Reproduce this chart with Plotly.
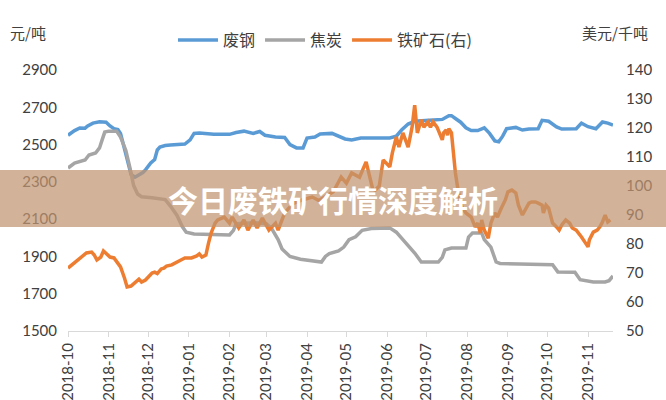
import plotly.graph_objects as go

# ---------------- data ----------------
scrap_dates = ["2018-10-01","2018-10-06","2018-10-10","2018-10-14","2018-10-16","2018-10-20","2018-10-25","2018-10-30",
               "2018-11-02","2018-11-05","2018-11-08","2018-11-10","2018-11-14","2018-11-18","2018-11-21","2018-11-24",
               "2018-11-27","2018-11-29","2018-12-03","2018-12-06","2018-12-08","2018-12-10","2018-12-14","2018-12-18",
               "2018-12-22","2018-12-29","2019-01-02","2019-01-05","2019-01-09","2019-01-20","2019-02-01","2019-02-06",
               "2019-02-12","2019-02-19","2019-02-24","2019-02-28","2019-03-08","2019-03-15","2019-03-19","2019-03-24",
               "2019-03-29","2019-04-01","2019-04-07","2019-04-11","2019-04-20","2019-04-30","2019-05-05","2019-05-12",
               "2019-05-25","2019-06-03","2019-06-08","2019-06-12","2019-06-17","2019-06-22","2019-07-03","2019-07-13",
               "2019-07-18","2019-07-20","2019-07-23","2019-07-27","2019-07-31","2019-08-04","2019-08-09","2019-08-14",
               "2019-08-18","2019-08-22","2019-08-25","2019-08-28","2019-08-31","2019-09-07","2019-09-12","2019-09-17",
               "2019-09-24","2019-09-27","2019-10-02","2019-10-08","2019-10-12","2019-10-17","2019-10-23","2019-10-27",
               "2019-11-01","2019-11-07","2019-11-12","2019-11-16","2019-11-20"]
scrap_vals = [2550,2575,2589,2588,2600,2615,2622,2620,
              2600,2585,2580,2560,2450,2340,2325,2337,
              2350,2364,2401,2420,2471,2487,2495,2498,
              2500,2503,2525,2560,2562,2555,2555,2565,
              2572,2560,2570,2550,2541,2538,2500,2482,
              2482,2535,2540,2557,2560,2530,2525,2535,
              2535,2535,2545,2578,2610,2625,2630,2635,
              2655,2655,2640,2620,2590,2575,2575,2590,
              2560,2520,2515,2545,2585,2592,2578,2583,
              2585,2630,2625,2595,2583,2585,2585,2615,
              2596,2585,2621,2615,2605]

coke_dates = ["2018-10-01","2018-10-04","2018-10-06","2018-10-14","2018-10-17","2018-10-22","2018-10-25","2018-10-27",
              "2018-10-29","2018-11-01","2018-11-07","2018-11-10","2018-11-14","2018-11-17","2018-11-20","2018-11-23",
              "2018-11-26","2018-12-04","2018-12-14","2018-12-18","2018-12-23","2018-12-27","2018-12-30","2019-01-05",
              "2019-01-20","2019-02-01","2019-02-04","2019-02-06","2019-02-20","2019-03-01","2019-03-05","2019-03-10",
              "2019-03-13","2019-03-19","2019-03-27","2019-04-06","2019-04-12","2019-04-15","2019-04-18","2019-04-25",
              "2019-04-29","2019-05-03","2019-05-08","2019-05-13","2019-05-20","2019-06-03","2019-06-08","2019-06-13",
              "2019-06-18","2019-06-22","2019-06-27","2019-07-10","2019-07-13","2019-07-15","2019-07-20","2019-07-31",
              "2019-08-02","2019-08-05","2019-08-12","2019-08-14","2019-08-19","2019-08-23","2019-08-26","2019-09-15",
              "2019-10-05","2019-10-09","2019-10-22","2019-10-26","2019-11-05","2019-11-14","2019-11-17","2019-11-20"]
coke_vals = [2374,2390,2401,2417,2444,2455,2482,2525,
             2567,2572,2572,2540,2470,2380,2280,2235,
             2220,2215,2205,2170,2120,2060,2030,2020,
             2015,2015,2040,2075,2080,2075,2050,1990,
             1940,1900,1885,1875,1870,1900,1915,1930,
             1950,1990,2005,2040,2050,2053,2030,1990,
             1950,1918,1870,1870,1895,1935,1945,1945,
             2004,2026,2026,1990,1950,1870,1862,1860,
             1855,1817,1815,1775,1763,1763,1770,1795]

ore_dates = ["2018-10-01","2018-10-04","2018-10-06","2018-10-08","2018-10-12","2018-10-15","2018-10-19","2018-10-21",
             "2018-10-23","2018-10-26","2018-10-28","2018-10-31","2018-11-02","2018-11-05","2018-11-07","2018-11-10",
             "2018-11-13","2018-11-15","2018-11-18","2018-11-22","2018-11-24","2018-11-26","2018-11-29","2018-12-04",
             "2018-12-06","2018-12-08","2018-12-11","2018-12-13","2018-12-15","2018-12-19","2018-12-22","2018-12-26",
             "2018-12-29","2019-01-03","2019-01-07","2019-01-09","2019-01-11","2019-01-14","2019-01-16","2019-01-18",
             "2019-01-21","2019-01-23","2019-01-28","2019-02-01","2019-02-03","2019-02-08","2019-02-12","2019-02-15",
             "2019-02-19","2019-02-22","2019-02-26","2019-03-03","2019-03-08","2019-03-10","2019-03-12","2019-03-15",
             "2019-03-19","2019-03-22","2019-03-27","2019-04-05","2019-04-10","2019-04-15","2019-04-21","2019-04-27",
             "2019-05-01","2019-05-05","2019-05-11","2019-05-16","2019-05-18","2019-05-21","2019-05-23","2019-05-26",
             "2019-05-29","2019-06-03","2019-06-05","2019-06-08","2019-06-10","2019-06-13","2019-06-17","2019-06-20",
             "2019-06-22","2019-06-24","2019-06-27","2019-06-29","2019-07-02","2019-07-04","2019-07-06","2019-07-09",
             "2019-07-13","2019-07-14","2019-07-16","2019-07-17","2019-07-18","2019-07-20","2019-07-23","2019-07-25",
             "2019-07-28","2019-07-31","2019-08-04","2019-08-07","2019-08-09","2019-08-11","2019-08-12","2019-08-14",
             "2019-08-17","2019-08-19","2019-08-22","2019-08-24","2019-08-27","2019-08-30","2019-09-01","2019-09-04",
             "2019-09-07","2019-09-09","2019-09-12","2019-09-15","2019-09-17","2019-09-19","2019-09-22","2019-09-24",
             "2019-09-27","2019-09-28","2019-09-30","2019-10-02","2019-10-05","2019-10-08","2019-10-10","2019-10-12",
             "2019-10-15","2019-10-18","2019-10-20","2019-10-23","2019-10-25","2019-10-27","2019-10-31","2019-11-01",
             "2019-11-02","2019-11-05","2019-11-08","2019-11-10","2019-11-12","2019-11-14","2019-11-16","2019-11-18"]
ore_vals = [71.7,72.8,73.8,74.5,75.9,76.9,77.2,76.2,
            74.5,75.5,77.6,76.2,75.5,75.2,74.1,72.1,
            68.3,65.2,65.5,66.9,67.9,66.9,67.6,70.0,
            70.3,69.8,71.4,71.7,72.4,72.8,73.4,74.5,
            75.2,75.2,75.9,76.6,75.5,76.2,80.3,83.8,
            87.2,88.3,89.3,87.2,89.3,85.5,88.3,84.8,
            88.3,85.5,88.9,84.8,87.2,84.8,87.2,90.7,
            92.8,94.1,95.0,96.2,95.0,96.5,98.0,103.1,
            101.0,104.5,103.0,108.3,104.5,99.0,98.6,100.0,
            109.0,106.6,111.4,116.9,113.4,118.3,113.4,120.3,
            127.9,118.3,122.8,120.3,122.1,120.3,122.1,120.3,
            115.9,118.3,119.3,117.5,119.8,118.3,104.5,98.6,
            92.8,90.7,89.3,85.9,87.2,83.8,88.3,84.8,
            82.0,87.2,90.7,89.3,92.4,95.2,98.0,98.6,
            97.6,93.4,90.0,92.4,94.1,94.5,94.5,94.1,
            93.4,90.7,93.4,92.4,87.2,85.9,84.8,86.6,
            88.3,87.2,85.5,84.8,83.8,82.4,79.7,79.0,
            81.4,84.1,84.8,85.9,87.6,90.0,87.6,88.3]

names = ["废钢", "焦炭", "铁矿石(右)"]
colors = ["#5B9BD5", "#A5A5A5", "#ED7D31"]
left_ticks = [1500, 1700, 1900, 2100, 2300, 2500, 2700, 2900]
right_ticks = [50, 60, 70, 80, 90, 100, 110, 120, 130, 140]
banner_title = "今日废铁矿行情深度解析"
left_unit = "元/吨"
right_unit = "美元/千吨"

# ---------------- figure ----------------
TXT = "#404040"
NUMFONT = "Lato"
CJK = "Noto Sans CJK SC"

fig = go.Figure()
fig.add_trace(go.Scatter(x=scrap_dates, y=scrap_vals, name=names[0], mode="lines",
                         line=dict(color=colors[0], width=3.5), yaxis="y"))
fig.add_trace(go.Scatter(x=coke_dates, y=coke_vals, name=names[1], mode="lines",
                         line=dict(color=colors[1], width=3.5), yaxis="y"))
fig.add_trace(go.Scatter(x=ore_dates, y=ore_vals, name=names[2], mode="lines",
                         line=dict(color=colors[2], width=3.5), yaxis="y2"))

fig.update_layout(
    width=666, height=400,
    margin=dict(l=68, r=53, t=70, b=69, autoexpand=False),
    paper_bgcolor="white", plot_bgcolor="white",
    showlegend=True,
    legend=dict(orientation="h", xref="container", yref="container",
                x=0.488, xanchor="center", y=0.9, yanchor="middle",
                font=dict(family=CJK, size=16, color=TXT), itemwidth=40,
                bgcolor="rgba(0,0,0,0)"),
    xaxis=dict(type="date", range=["2018-10-01", "2019-11-20"], automargin=False,
               dtick="M1", tick0="2018-10-01", tickformat="%Y-%m", tickangle=-90,
               showgrid=False, zeroline=False,
               showline=True, linecolor="#D9D9D9", linewidth=1,
               ticks="outside", ticklen=5, tickcolor="#D9D9D9",
               tickfont=dict(family=NUMFONT, size=15, color=TXT)),
    yaxis=dict(range=[1500, 2900], tickvals=left_ticks, showgrid=False, zeroline=False,
               showline=False, ticks="", ticklabelstandoff=10, automargin=False,
               tickfont=dict(family=NUMFONT, size=15, color=TXT)),
    yaxis2=dict(range=[50, 140], tickvals=right_ticks, overlaying="y", side="right",
                showgrid=False, zeroline=False, showline=False, ticks="", ticklabelstandoff=12,
                automargin=False, tickfont=dict(family=NUMFONT, size=15, color=TXT)),
)

# axis unit labels
fig.add_annotation(text=left_unit, xref="paper", yref="paper", x=-0.073, y=1.142,
                   xanchor="center", yanchor="middle",
                   showarrow=False, font=dict(family=CJK, size=15, color=TXT))
fig.add_annotation(text=right_unit, xref="paper", yref="paper", x=1.004, y=1.142,
                   xanchor="center", yanchor="middle",
                   showarrow=False, font=dict(family=CJK, size=15, color=TXT))

# banner overlay
fig.add_shape(type="rect", xref="paper", yref="paper", x0=-0.13, x1=1.10, y0=0.398, y1=0.617,
              fillcolor="rgba(192,148,112,0.72)", line=dict(width=0), layer="above")
fig.add_annotation(text="<b>" + banner_title + "</b>", xref="paper", yref="paper", x=0.486, y=0.506,
                   xanchor="center", yanchor="middle",
                   showarrow=False, font=dict(family=CJK, size=30, color="white"))

fig.write_html("out.html", config={"displayModeBar": False},
               post_script="document.body.style.margin='0';document.body.style.overflow='hidden';")
